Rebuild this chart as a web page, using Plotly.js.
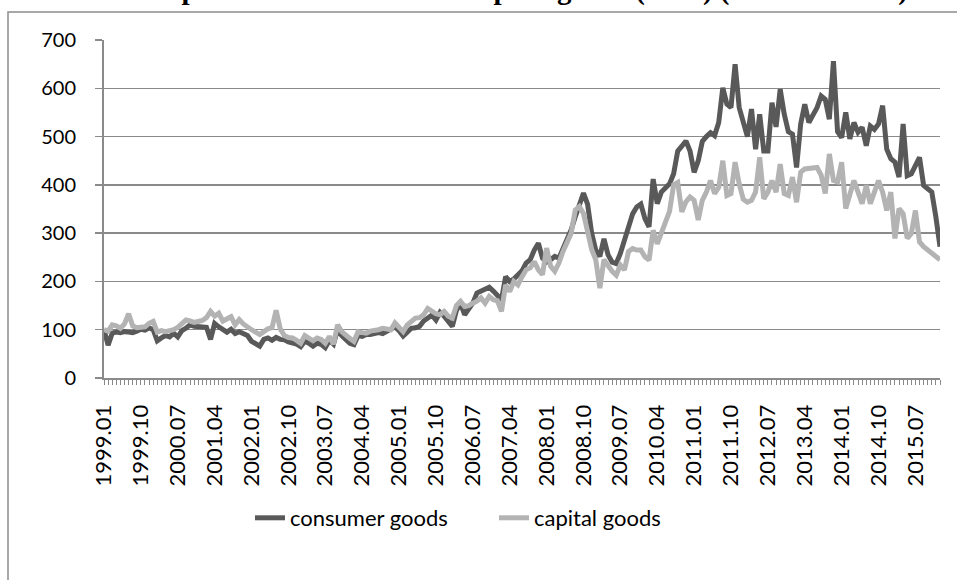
<!DOCTYPE html>
<html>
<head>
<meta charset="utf-8">
<script src="https://cdn.plot.ly/plotly-3.0.1.min.js"></script>
<style>html,body{margin:0;padding:0;background:#fff;}#chart{width:957px;height:580px;}</style>
</head>
<body>
<div id="chart"></div>
<script>
// Monthly categories 1999.01 .. 2016.01
var startYear = 1999, monthCount = 205;
var months = [];
for (var k = 0; k < monthCount; k++) {
  var yy = startYear + Math.floor(k / 12), mm = (k % 12) + 1;
  months.push(yy + '.' + (mm < 10 ? '0' + mm : '' + mm));
}
var tickLabels = ['1999.01','1999.10','2000.07','2001.04','2002.01','2002.10','2003.07','2004.04',
  '2005.01','2005.10','2006.07','2007.04','2008.01','2008.10','2009.07','2010.04','2011.01',
  '2011.10','2012.07','2013.04','2014.01','2014.10','2015.07'];

var consumerGoods = [
  100, 68, 93, 95, 94, 96, 95, 94, 97, 101, 99, 104,      // 1999
  100, 77, 83, 88, 85, 93, 85, 98, 103, 110, 107, 106,    // 2000
  106, 105, 80, 113, 106, 100, 95, 101, 92, 96, 93, 88,   // 2001
  76, 72, 66, 80, 83, 78, 84, 80, 79, 75, 73, 70,         // 2002
  65, 76, 72, 66, 72, 70, 63, 78, 70, 100, 88, 80,        // 2003
  72, 69, 88, 86, 90, 90, 92, 94, 92, 96, 100, 106,       // 2004
  98, 87, 95, 103, 104, 107, 118, 125, 130, 120, 136, 128,// 2005
  118, 107, 140, 155, 131, 145, 155, 176, 180, 183, 188, 180, // 2006
  170, 162, 210, 200, 205, 212, 222, 238, 245, 265, 279, 248, // 2007
  240, 245, 252, 248, 266, 290, 307, 334, 360, 383, 360, 300, // 2008
  265, 252, 288, 255, 240, 237, 258, 285, 305, 340, 354, 360, // 2009
  330, 313, 412, 361, 385, 395, 402, 423, 470, 480, 491, 470, // 2010
  426, 450, 490, 500, 508, 502, 529, 601, 567, 560, 650, 560, // 2011
  525, 500, 557, 474, 546, 470, 470, 570, 520, 598, 546, 510, // 2012
  505, 436, 526, 567, 529, 545, 560, 584, 577, 536, 656, 510, // 2013
  498, 550, 495, 529, 509, 519, 481, 522, 515, 526, 564, 474, // 2014
  454, 447, 416, 526, 419, 423, 440, 457, 399, 392, 385, 333, // 2015
  272                                                        // 2016
];
var capitalGoods = [
  100, 97, 110, 108, 103, 112, 133, 108, 104, 105, 106, 113, // 1999
  117, 95, 98, 96, 97, 100, 105, 112, 120, 118, 115, 117,    // 2000
  119, 125, 138, 128, 134, 118, 122, 127, 110, 121, 112, 105,// 2001
  100, 95, 90, 96, 102, 104, 140, 102, 88, 84, 83, 78,       // 2002
  72, 88, 82, 77, 83, 80, 72, 86, 70, 110, 96, 88,           // 2003
  82, 76, 96, 94, 93, 97, 98, 100, 103, 102, 100, 114,       // 2004
  106, 96, 110, 117, 124, 125, 131, 144, 138, 133, 131, 138, // 2005
  128, 124, 150, 159, 148, 150, 155, 159, 166, 155, 169, 162,// 2006
  160, 138, 193, 179, 200, 193, 210, 224, 228, 241, 224, 214,// 2007
  269, 231, 221, 238, 262, 283, 300, 348, 355, 341, 300, 266,// 2008
  245, 186, 245, 231, 221, 213, 234, 224, 262, 268, 265, 265,// 2009
  251, 244, 306, 278, 300, 320, 345, 400, 405, 344, 365, 375,// 2010
  368, 327, 368, 385, 409, 382, 395, 450, 378, 382, 447, 402,// 2011
  370, 364, 368, 385, 457, 371, 385, 409, 385, 443, 382, 378,// 2012
  416, 364, 426, 433, 434, 435, 436, 420, 382, 464, 409, 406,// 2013
  447, 351, 380, 409, 385, 361, 399, 361, 385, 409, 385, 347,// 2014
  385, 289, 351, 340, 289, 299, 347, 282, 272, 265, 260, 252,// 2015
  245                                                         // 2016
];
var seriesNames = ['consumer goods', 'capital goods'];
var yTicks = [0, 100, 200, 300, 400, 500, 600, 700];
var titleText = 'Imports of consumer and capital goods (1999) (1999.01 = 100)';

var tickText = months.map(function (m) { return tickLabels.indexOf(m) >= 0 ? m : ''; });

var W = 957, H = 580, mL = 104, mR = 17, mT = 40, mB = 202;
var pw = W - mL - mR, ph = H - mT - mB;
function px2x(p) { return (p - mL) / pw; }
function py2y(p) { return (H - mB - p) / ph; }

var gridCol = '#8a8a8a';
var traces = [
  {x: months, y: consumerGoods, type: 'scatter', mode: 'lines', name: seriesNames[0],
   line: {color: '#595959', width: 5}},
  {x: months, y: capitalGoods, type: 'scatter', mode: 'lines', name: seriesNames[1],
   line: {color: '#b3b3b3', width: 5}}
];
var layout = {
  width: W, height: H,
  margin: {l: mL, r: mR, t: mT, b: mB},
  paper_bgcolor: '#fff', plot_bgcolor: '#fff',
  font: {family: 'Lato, "Liberation Sans", sans-serif', size: 21, color: '#000'},
  showlegend: true,
  legend: {orientation: 'h', x: px2x(250), xanchor: 'left', y: py2y(518), yanchor: 'middle',
           entrywidth: 199, entrywidthmode: 'pixels',
           font: {size: 22}, bgcolor: 'rgba(0,0,0,0)'},
  xaxis: {type: 'category', range: [0, monthCount - 1], tickmode: 'array',
          tickvals: months, ticktext: tickText, tickangle: -90,
          ticks: 'outside', ticklen: 5, tickwidth: 1, tickcolor: gridCol,
          showline: true, linecolor: gridCol, linewidth: 2, showgrid: false,
          zeroline: false, ticklabelstandoff: 11, tickfont: {size: 22}, fixedrange: true},
  yaxis: {range: [0, 700], tickmode: 'array', tickvals: yTicks,
          ticks: 'outside', ticklen: 7, tickwidth: 1.5, tickcolor: gridCol,
          showline: true, linecolor: gridCol, linewidth: 2,
          showgrid: true, gridcolor: gridCol, gridwidth: 1.5, zeroline: false,
          ticklabelstandoff: 15, tickfont: {size: 20}, fixedrange: true},
  shapes: [{type: 'rect', xref: 'paper', yref: 'paper', layer: 'below',
            x0: px2x(8), x1: px2x(975), y0: py2y(12), y1: py2y(600),
            line: {color: '#8c8c8c', width: 1.5}, fillcolor: 'rgba(0,0,0,0)'}],
  annotations: [{text: '<b>' + titleText + '</b>', xref: 'paper', yref: 'paper',
                 x: px2x(527), y: py2y(8), xanchor: 'center', yanchor: 'bottom',
                 showarrow: false, font: {family: '"Liberation Serif", "Times New Roman", serif', size: 29, color: '#000'}}]
};
Plotly.newPlot('chart', traces, layout, {displayModeBar: false, staticPlot: true});
</script>
</body>
</html>
